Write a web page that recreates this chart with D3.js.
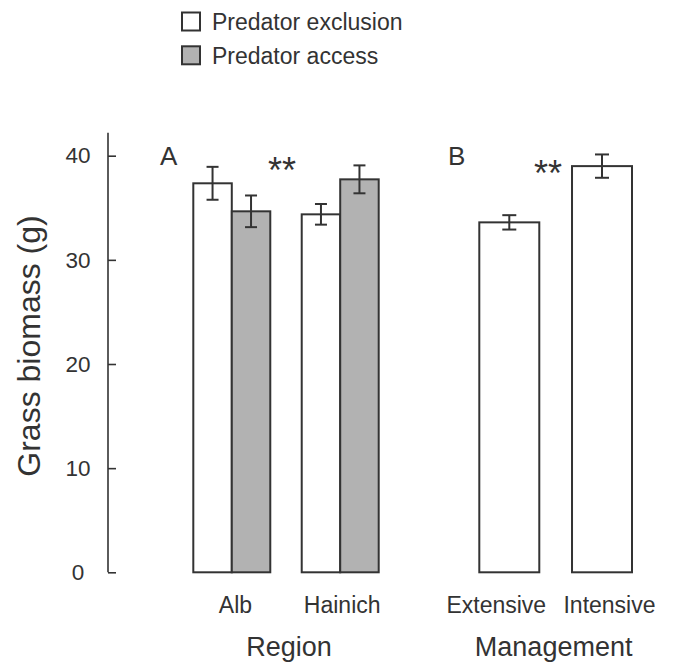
<!DOCTYPE html>
<html>
<head>
<meta charset="utf-8">
<script src="https://cdn.jsdelivr.net/npm/d3@7"></script>
<style>
    body { margin: 0; background: #fff; }
    text { font-family: "Liberation Sans", Arial, sans-serif; fill: #333; }
</style>
</head>
<body>
<div id="chart"></div>
<script>

// ---- data ----
const treatments = ["Predator exclusion", "Predator access"];
const regions = ["Alb", "Hainich"];
// [exclusion, access] for each region
const regionMeans = [[37.35, 34.66], [34.37, 37.73]];
const regionErrors = [[1.58, 1.52], [0.99, 1.34]];

const managements = ["Extensive", "Intensive"];
const managementMeans = [33.6, 39.0];
const managementErrors = [0.69, 1.12];

const yTicks = [0, 10, 20, 30, 40];
const stars = ["**", "**"];

class GrassBars {

    constructor(parentElement) {
        this.parentElement = parentElement;
        this.ink = "#333";
        this.fills = ["#ffffff", "#b2b2b2"];
        this.initVis();
    }

    initVis() {
        let vis = this;

        vis.width = 673;
        vis.height = 662;

        vis.svg = d3.select("#" + vis.parentElement).append("svg")
            .attr("width", vis.width)
            .attr("height", vis.height);

        vis.axisX = 108;

        vis.y = d3.scaleLinear()
            .domain([0, 40])
            .range([572.3, 155.7]);

        // panel A: groups and treatments inside
        vis.xA = d3.scaleBand()
            .domain(regions)
            .range([193.3, 378.7])
            .paddingInner(0.29)
            .paddingOuter(0);

        vis.xSub = d3.scaleBand()
            .domain(treatments)
            .range([0, vis.xA.bandwidth()]);

        // panel B
        vis.xB = d3.scaleBand()
            .domain(managements)
            .range([479.3, 632])
            .paddingInner(0.353)
            .paddingOuter(0);

        vis.wrangleData();
    }

    wrangleData() {
        let vis = this;

        vis.regionData = [];
        regions.forEach((r, i) => {
            treatments.forEach((t, j) => {
                vis.regionData.push({
                    region: r,
                    treatment: t,
                    idx: j,
                    mean: regionMeans[i][j],
                    err: regionErrors[i][j]
                });
            });
        });

        vis.managementData = managements.map((m, i) => ({
            management: m,
            mean: managementMeans[i],
            err: managementErrors[i]
        }));

        vis.updateVis();
    }

    updateVis() {
        let vis = this;

        // ---- y axis ----
        let yAxis = d3.axisLeft(vis.y)
            .tickValues(yTicks)
            .tickSizeInner(-8)
            .tickSizeOuter(0)
            .tickPadding(30);

        let yg = vis.svg.append("g")
            .attr("class", "y-axis")
            .attr("transform", "translate(" + vis.axisX + ",0)")
            .call(yAxis);

        yg.select(".domain").remove();
        yg.selectAll("line").attr("stroke", vis.ink).attr("stroke-width", 1.6);
        yg.selectAll("text")
            .attr("text-anchor", "middle")
            .attr("font-size", "22.5px")
            .attr("font-family", null)
            .attr("fill", vis.ink);

        vis.svg.append("line")
            .attr("x1", vis.axisX).attr("x2", vis.axisX)
            .attr("y1", vis.y(0)).attr("y2", vis.y(42.2))
            .attr("stroke", vis.ink)
            .attr("stroke-width", 1.6);

        vis.svg.append("text")
            .attr("transform", "translate(40," + 346 + ") rotate(-90)")
            .attr("text-anchor", "middle")
            .attr("font-size", "32px")
            .text("Grass biomass (g)");

        // ---- panel A bars ----
        let barsA = vis.svg.selectAll(".barA")
            .data(vis.regionData);

        barsA.enter().append("rect")
            .attr("class", "barA")
            .attr("x", d => vis.xA(d.region) + vis.xSub(d.treatment))
            .attr("y", d => vis.y(d.mean))
            .attr("width", vis.xSub.bandwidth())
            .attr("height", d => vis.y(0) - vis.y(d.mean))
            .attr("fill", d => vis.fills[d.idx])
            .attr("stroke", vis.ink)
            .attr("stroke-width", 2);

        vis.drawErrors(vis.regionData, d => vis.xA(d.region) + vis.xSub(d.treatment) + vis.xSub.bandwidth() / 2, 12);

        // ---- panel B bars ----
        let barsB = vis.svg.selectAll(".barB")
            .data(vis.managementData);

        barsB.enter().append("rect")
            .attr("class", "barB")
            .attr("x", d => vis.xB(d.management))
            .attr("y", d => vis.y(d.mean))
            .attr("width", vis.xB.bandwidth())
            .attr("height", d => vis.y(0) - vis.y(d.mean))
            .attr("fill", vis.fills[0])
            .attr("stroke", vis.ink)
            .attr("stroke-width", 2);

        vis.drawErrors(vis.managementData, d => vis.xB(d.management) + vis.xB.bandwidth() / 2, 14);

        // ---- category labels ----
        let nudgeA = [3.7, 2];
        let nudgeB = [-13, 7.5];

        vis.svg.selectAll(".labA")
            .data(regions)
            .enter().append("text")
            .attr("class", "labA")
            .attr("x", (d, i) => vis.xA(d) + vis.xA.bandwidth() / 2 + nudgeA[i])
            .attr("y", 613)
            .attr("text-anchor", "middle")
            .attr("font-size", "23px")
            .text(d => d);

        vis.svg.selectAll(".labB")
            .data(managements)
            .enter().append("text")
            .attr("class", "labB")
            .attr("x", (d, i) => vis.xB(d) + vis.xB.bandwidth() / 2 + nudgeB[i])
            .attr("y", 613)
            .attr("text-anchor", "middle")
            .attr("font-size", "23px")
            .text(d => d);

        vis.svg.append("text")
            .attr("x", (vis.xA.range()[0] + vis.xA.range()[1]) / 2 + 3)
            .attr("y", 656)
            .attr("text-anchor", "middle")
            .attr("font-size", "27px")
            .text("Region");

        vis.svg.append("text")
            .attr("x", (vis.xB.range()[0] + vis.xB.range()[1]) / 2 - 2)
            .attr("y", 656)
            .attr("text-anchor", "middle")
            .attr("font-size", "27px")
            .text("Management");

        // panel letters + significance
        vis.svg.append("text")
            .attr("x", 160).attr("y", 165)
            .attr("font-size", "26px")
            .text("A");

        vis.svg.append("text")
            .attr("x", 448).attr("y", 165)
            .attr("font-size", "26px")
            .text("B");

        vis.svg.append("text")
            .attr("x", 282).attr("y", 183)
            .attr("text-anchor", "middle")
            .attr("font-size", "36px")
            .text(stars[0]);

        vis.svg.append("text")
            .attr("x", 548).attr("y", 186)
            .attr("text-anchor", "middle")
            .attr("font-size", "36px")
            .text(stars[1]);

        // ---- legend ----
        let legend = vis.svg.selectAll(".legend")
            .data(treatments)
            .enter().append("g")
            .attr("class", "legend")
            .attr("transform", (d, i) => "translate(182," + (12.5 + i * 33.8) + ")");

        legend.append("rect")
            .attr("width", 18)
            .attr("height", 18)
            .attr("fill", (d, i) => vis.fills[i])
            .attr("stroke", vis.ink)
            .attr("stroke-width", 2);

        legend.append("text")
            .attr("x", 30)
            .attr("y", 17.5)
            .attr("font-size", "23px")
            .text(d => d);
    }

    drawErrors(data, cx, cap) {
        let vis = this;
        let g = vis.svg.append("g").attr("class", "errors");

        g.selectAll(".stem")
            .data(data)
            .enter().append("line")
            .attr("x1", cx).attr("x2", cx)
            .attr("y1", d => vis.y(d.mean - d.err))
            .attr("y2", d => vis.y(d.mean + d.err))
            .attr("stroke", vis.ink)
            .attr("stroke-width", 2);

        [1, -1].forEach(s => {
            g.selectAll(".cap" + s)
                .data(data)
                .enter().append("line")
                .attr("x1", d => cx(d) - cap / 2)
                .attr("x2", d => cx(d) + cap / 2)
                .attr("y1", d => vis.y(d.mean + s * d.err))
                .attr("y2", d => vis.y(d.mean + s * d.err))
                .attr("stroke", vis.ink)
                .attr("stroke-width", 2);
        });
    }
}

new GrassBars("chart");

</script>
</body>
</html>
